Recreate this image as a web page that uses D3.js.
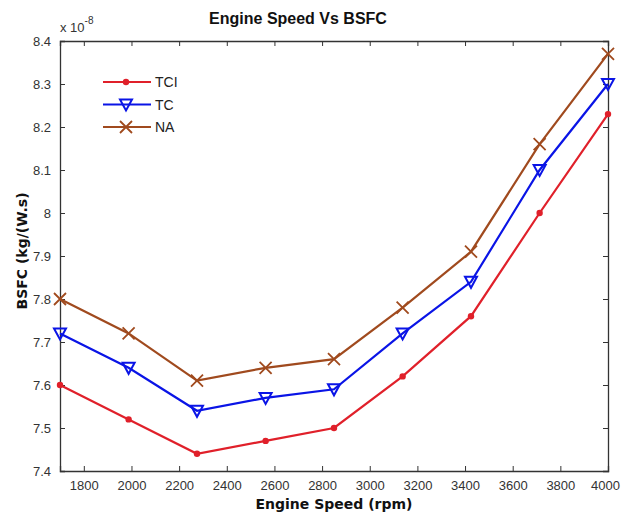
<!DOCTYPE html>
<html>
<head>
<meta charset="utf-8">
<script src="https://cdn.jsdelivr.net/npm/d3@7"></script>
<style>
  body { margin: 0; background: #fff; }
  svg { display: block; }
  .tick text { font-family: "Liberation Sans Narrow", "Liberation Sans", Arial, sans-serif; font-size: 13px; fill: #333; }
</style>
</head>
<body>
<div id="chart"></div>
<script>
//----------------------------
// Data
//----------------------------

var speeds = [1700, 1988, 2275, 2563, 2850, 3138, 3425, 3713, 4000];
var tciValues = [7.60, 7.52, 7.44, 7.47, 7.50, 7.62, 7.76, 8.00, 8.23];
var tcValues = [7.72, 7.64, 7.54, 7.57, 7.59, 7.72, 7.84, 8.10, 8.30];
var naValues = [7.80, 7.72, 7.61, 7.64, 7.66, 7.78, 7.91, 8.16, 8.37];
var seriesNames = ["TCI", "TC", "NA"];
var xTicks = [1800, 2000, 2200, 2400, 2600, 2800, 3000, 3200, 3400, 3600, 3800, 4000];
var yTicks = [7.4, 7.5, 7.6, 7.7, 7.8, 7.9, 8, 8.1, 8.2, 8.3, 8.4];

var W = 622, H = 516;
var margin = { left: 60, top: 41, right: 14, bottom: 45 };
var innerW = W - margin.left - margin.right;
var innerH = H - margin.top - margin.bottom;

var svg = d3.select("#chart").append("svg")
    .attr("width", W)
    .attr("height", H);

var x = d3.scaleLinear().domain([1700, 4000]).range([0, innerW]);
var y = d3.scaleLinear().domain([7.4, 8.4]).range([innerH, 0]);

var g = svg.append("g")
    .attr("transform", "translate(" + margin.left + "," + margin.top + ")");

//----------------------------
// Axes (ticks inside, box all round)
//----------------------------

var fmtY = function (d) { return d3.format("")(+d.toFixed(1)); };

var xAxisG = g.append("g")
    .attr("transform", "translate(0," + innerH + ")")
    .call(d3.axisBottom(x).tickValues(xTicks).tickSize(-5).tickPadding(10).tickFormat(d3.format("")));
// last label sits a little inside the window edge
xAxisG.selectAll(".tick text").filter(function (d) { return d === 4000; }).attr("dx", -3);

g.append("g")
    .call(d3.axisTop(x).tickValues(xTicks).tickSize(-5).tickFormat(""));
g.append("g")
    .call(d3.axisLeft(y).tickValues(yTicks).tickSize(-5).tickPadding(9).tickFormat(fmtY));
g.append("g")
    .attr("transform", "translate(" + innerW + ",0)")
    .call(d3.axisRight(y).tickValues(yTicks).tickSize(-5).tickFormat(""));

g.selectAll(".domain").attr("stroke", "#333").attr("stroke-width", 1.3);
g.selectAll(".tick line").attr("stroke", "#333");

//----------------------------
// Lines and markers
//----------------------------

var colors = { TCI: "#e0202a", TC: "#0a14e6", NA: "#a04a1e" };
var allValues = { TCI: tciValues, TC: tcValues, NA: naValues };

var line = d3.line()
    .x(function (d, i) { return x(speeds[i]); })
    .y(function (d) { return y(d); });

function drawMarker(sel, name, px, py) {
    var c = colors[name];
    if (name === "TCI") {
        sel.append("circle").attr("cx", px).attr("cy", py).attr("r", 3.2).attr("fill", c);
    } else if (name === "TC") {
        sel.append("path")
            .attr("d", "M" + (px - 6) + "," + (py - 5) + "L" + (px + 6) + "," + (py - 5) + "L" + px + "," + (py + 6) + "Z")
            .attr("fill", "none").attr("stroke", c).attr("stroke-width", 2);
    } else {
        sel.append("path")
            .attr("d", "M" + (px - 6) + "," + (py - 6) + "L" + (px + 6) + "," + (py + 6) +
                "M" + (px - 6) + "," + (py + 6) + "L" + (px + 6) + "," + (py - 6))
            .attr("stroke", c).attr("stroke-width", 1.8);
    }
}

seriesNames.slice().reverse().forEach(function (name) {
    var vals = allValues[name];
    g.append("path")
        .datum(vals)
        .attr("d", line)
        .attr("fill", "none")
        .attr("stroke", colors[name])
        .attr("stroke-width", 2.2);
    var mg = g.append("g");
    vals.forEach(function (v, i) {
        drawMarker(mg, name, x(speeds[i]), y(v));
    });
});

//----------------------------
// Legend
//----------------------------

var leg = svg.append("g");
seriesNames.forEach(function (name, i) {
    var ly = 82 + i * 22.5;
    leg.append("line")
        .attr("x1", 103).attr("x2", 151).attr("y1", ly).attr("y2", ly)
        .attr("stroke", colors[name]).attr("stroke-width", 2.2);
    drawMarker(leg, name, 126, ly);
    leg.append("text")
        .attr("x", 155).attr("y", ly + 5)
        .attr("font-family", "'Liberation Sans Narrow', 'Liberation Sans', Arial, sans-serif")
        .attr("font-size", 14).attr("fill", "#222")
        .text(name);
});

//----------------------------
// Titles
//----------------------------

svg.append("text")
    .attr("x", 298).attr("y", 24)
    .attr("text-anchor", "middle")
    .attr("font-family", "'Liberation Sans', Arial, sans-serif")
    .attr("font-weight", "bold").attr("font-size", 16).attr("fill", "#111")
    .text("Engine Speed Vs BSFC");

var mult = svg.append("text")
    .attr("x", 60).attr("y", 32)
    .attr("font-family", "'Liberation Sans Narrow', 'Liberation Sans', Arial, sans-serif")
    .attr("font-size", 13).attr("fill", "#333");
mult.append("tspan").text("x 10");
mult.append("tspan").attr("dy", -8).attr("font-size", 10).text("-8");

svg.append("text")
    .attr("x", 334).attr("y", 509)
    .attr("text-anchor", "middle")
    .attr("font-family", "'DejaVu Sans', sans-serif")
    .attr("font-weight", "bold").attr("font-size", 14).attr("fill", "#111")
    .text("Engine Speed (rpm)");

svg.append("text")
    .attr("transform", "translate(27,251) rotate(-90)")
    .attr("text-anchor", "middle")
    .attr("font-family", "'DejaVu Sans', sans-serif")
    .attr("font-weight", "bold").attr("font-size", 14).attr("fill", "#111")
    .text("BSFC (kg/(W.s)");
</script>
</body>
</html>
